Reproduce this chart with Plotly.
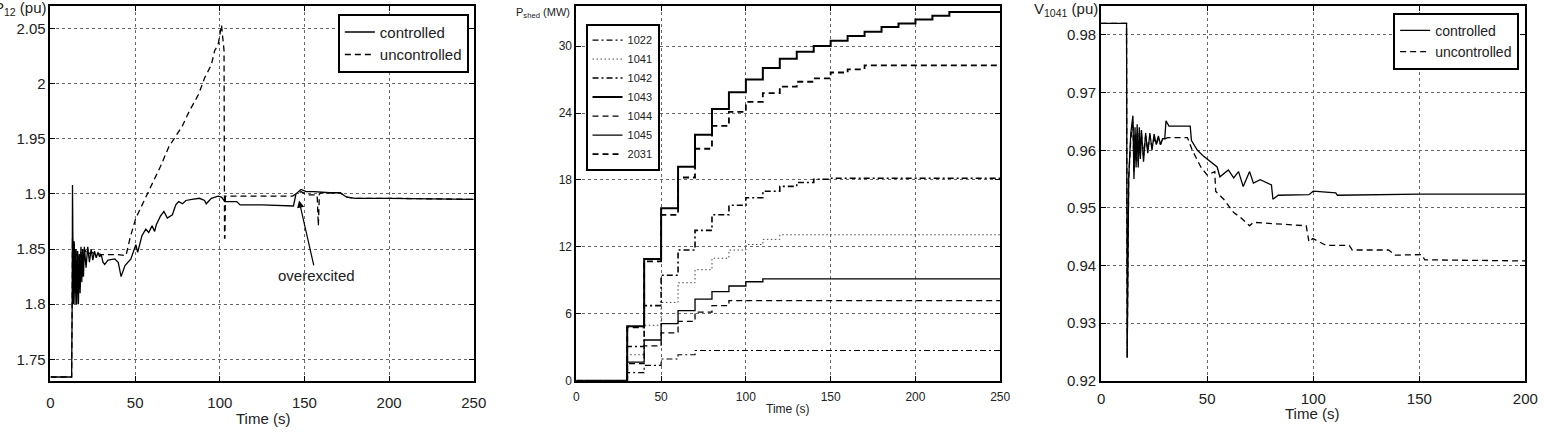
import plotly.graph_objects as go

# ---------------- Panel 1: P12 (pu) ----------------
p12_t_ctrl = [0, 12.5, 12.8, 13.0, 13.5, 14.0, 14.5, 15.0, 15.5, 16.0, 16.5, 17.0, 17.5, 18.0, 18.5, 19.0, 19.5,
              20, 21, 22, 23, 24, 25, 26, 27, 28, 29, 30, 31, 32, 34, 38, 40, 41.7, 44, 47.5, 50.4, 51.5,
              54, 56.3, 58, 60, 61.5, 62.5, 65, 67, 69, 72, 74, 75.7, 78, 80, 83.5, 88, 91, 92, 95, 99,
              101, 103, 110, 112, 125, 142, 143.5, 145, 148, 151, 155.6, 165, 171, 175, 180, 200, 250]
p12_ctrl = [1.734, 1.734, 1.80, 1.908, 1.80, 1.857, 1.80, 1.85, 1.80, 1.848, 1.80, 1.845, 1.81, 1.852, 1.82, 1.85, 1.825,
            1.852, 1.833, 1.852, 1.838, 1.85, 1.84, 1.848, 1.842, 1.847, 1.843, 1.845, 1.838, 1.836, 1.84, 1.841, 1.838, 1.825, 1.835, 1.841, 1.854, 1.847,
            1.862, 1.868, 1.865, 1.871, 1.866, 1.872, 1.880, 1.884, 1.878, 1.881, 1.890, 1.893, 1.891, 1.894, 1.895, 1.896, 1.894, 1.891, 1.896, 1.898,
            1.897, 1.893, 1.893, 1.890, 1.890, 1.889, 1.889, 1.900, 1.904, 1.902, 1.902, 1.901, 1.901, 1.897, 1.896, 1.896, 1.895]

p12_t_unc = [0, 12.5, 12.8, 13.0, 13.5, 14.0, 14.5, 15.0, 15.5, 16.0, 16.5, 17.0, 17.5, 18.0, 19.0, 20, 22, 24, 26, 28, 30,
             35, 40, 44.6, 47, 50.4, 55, 60, 65, 70, 74, 77.7, 82, 87.4, 91, 95, 97, 99, 101, 102.5, 102.8, 103.0, 103.3,
             110, 125, 143, 145, 148, 152, 157.5, 158.2, 158.8, 160, 171, 175, 180, 200, 250]
p12_unc = [1.734, 1.734, 1.80, 1.86, 1.81, 1.855, 1.81, 1.85, 1.81, 1.848, 1.81, 1.846, 1.815, 1.849, 1.825, 1.85, 1.845, 1.847, 1.846, 1.846, 1.845,
           1.845, 1.845, 1.844, 1.86, 1.878, 1.893, 1.909, 1.925, 1.943, 1.952, 1.961, 1.975, 1.990, 2.005, 2.017, 2.030, 2.035, 2.053, 2.03, 1.86, 1.86, 1.898,
           1.898, 1.898, 1.898, 1.900, 1.902, 1.899, 1.899, 1.871, 1.90, 1.901, 1.901, 1.897, 1.896, 1.896, 1.895]

# ---------------- Panel 2: P_shed (MW), step changes every 10 s ----------------
shed_t = [0, 30, 40, 50, 60, 70, 80, 90, 100, 110, 120, 130, 140, 150, 160, 170, 180, 190, 200, 210, 220, 250]
shed_1022 = [0, 0.73, 1.38, 1.96, 2.34, 2.72, 2.72, 2.72, 2.72, 2.72, 2.72, 2.72, 2.72, 2.72, 2.72, 2.72, 2.72, 2.72, 2.72, 2.72, 2.72, 2.72]
shed_1041 = [0, 2.34, 4.98, 7.03, 8.79, 9.96, 10.99, 11.72, 12.22, 12.68, 13.09, 13.09, 13.09, 13.09, 13.09, 13.09, 13.09, 13.09, 13.09, 13.09, 13.09, 13.09]
shed_1042 = [0, 3.08, 6.74, 9.46, 11.72, 13.48, 14.88, 15.73, 16.41, 16.99, 17.43, 17.78, 18.07, 18.16, 18.16, 18.16, 18.16, 18.16, 18.16, 18.16, 18.16, 18.16]
shed_1043 = [0, 4.89, 10.93, 15.47, 19.19, 22.06, 24.37, 25.87, 27.01, 28.04, 28.86, 29.5, 30.0, 30.47, 30.9, 31.29, 31.7, 32.02, 32.37, 32.72, 33.05, 33.05]
shed_1044 = [0, 1.55, 3.13, 4.30, 5.33, 6.15, 6.74, 7.18, 7.18, 7.18, 7.18, 7.18, 7.18, 7.18, 7.18, 7.18, 7.18, 7.18, 7.18, 7.18, 7.18, 7.18]
shed_1045 = [0, 1.67, 3.66, 5.13, 6.30, 7.32, 8.00, 8.50, 8.88, 9.14, 9.14, 9.14, 9.14, 9.14, 9.14, 9.14, 9.14, 9.14, 9.14, 9.14, 9.14, 9.14]
shed_2031 = [0, 4.80, 10.70, 14.88, 18.22, 20.80, 22.85, 24.10, 24.99, 25.78, 26.37, 26.80, 27.10, 27.63, 27.92, 28.27, 28.27, 28.27, 28.27, 28.27, 28.27, 28.27]

# ---------------- Panel 3: V1041 (pu) ----------------
v_t_ctrl = [0, 12.0, 12.3, 13.0, 14.0, 15.0, 15.5, 16.0, 16.5, 17.0, 17.5, 18.0, 18.5, 19.0, 20, 21, 22, 23, 24, 25, 26, 27, 28, 29, 30,
            30.6, 32, 42, 42.6, 45.4, 48.5, 51.6, 54.7, 56, 60, 62.5, 64.8, 67, 70, 71.8, 75, 80.3, 81, 83.5, 98, 100, 110.6, 111.4, 150, 200]
v_ctrl = [0.982, 0.982, 0.924, 0.955, 0.963, 0.966, 0.955, 0.964, 0.957, 0.9645, 0.957, 0.964, 0.9585, 0.9635, 0.958, 0.963, 0.9595, 0.963, 0.960, 0.9628, 0.961, 0.9625, 0.961, 0.962, 0.962,
          0.9651, 0.9642, 0.9642, 0.9617, 0.9600, 0.9589, 0.9580, 0.9571, 0.9554, 0.9566, 0.9552, 0.9563, 0.9537, 0.9563, 0.9543, 0.9549, 0.9540, 0.9515, 0.9522, 0.9523, 0.9529, 0.9526, 0.9522, 0.9524, 0.9524]

v_t_unc = [0, 12.0, 12.3, 13.0, 14.0, 15.0, 15.5, 16.0, 16.5, 17.0, 17.5, 18.0, 18.5, 19.0, 20, 21, 22, 23, 24, 25, 26, 27, 28, 29, 30,
           31.4, 40.7, 43, 47, 50, 53.6, 54, 57.8, 62.5, 65.6, 70, 71.8, 96.7, 98, 99.8, 106, 117, 118.4, 135.5, 138.6, 151, 152.6, 200]
v_unc = [0.982, 0.982, 0.924, 0.955, 0.962, 0.965, 0.956, 0.963, 0.958, 0.963, 0.958, 0.963, 0.959, 0.963, 0.959, 0.9625, 0.960, 0.9625, 0.9605, 0.962, 0.961, 0.962, 0.961, 0.962, 0.962,
         0.9622, 0.9622, 0.9600, 0.9571, 0.9557, 0.9563, 0.9529, 0.9515, 0.9492, 0.9484, 0.9469, 0.9475, 0.9469, 0.9441, 0.9447, 0.9435, 0.9435, 0.9427, 0.9427, 0.9418, 0.9419, 0.9410, 0.9408]

# ---------------- Figure ----------------
W, H = 1545, 434
FONT = "Liberation Sans, Arial, Helvetica, sans-serif"
DASH = "6px,4px"
DASHDOT = "6px,3px,2px,3px"
DOT = "1.5px,2.5px"


def px_x(p):
    return p / W


def px_y(p):
    return 1 - p / H


fig = go.Figure()

# Panel 1 traces
fig.add_trace(go.Scatter(x=p12_t_unc, y=p12_unc, mode="lines", name="uncontrolled",
                         line=dict(color="black", width=1.3, dash=DASH), xaxis="x", yaxis="y", legend="legend"))
fig.add_trace(go.Scatter(x=p12_t_ctrl, y=p12_ctrl, mode="lines", name="controlled",
                         line=dict(color="black", width=1.3), xaxis="x", yaxis="y", legend="legend"))

# Panel 2 traces
shed_series = [
    ("1022", shed_1022, dict(color="black", width=1.2, dash=DASHDOT)),
    ("1041", shed_1041, dict(color="#444444", width=1.0, dash=DOT)),
    ("1042", shed_1042, dict(color="black", width=1.6, dash=DASHDOT)),
    ("1043", shed_1043, dict(color="black", width=2.0)),
    ("1044", shed_1044, dict(color="black", width=1.3, dash=DASH)),
    ("1045", shed_1045, dict(color="black", width=1.3)),
    ("2031", shed_2031, dict(color="black", width=1.8, dash=DASH)),
]
for name, vals, ln in shed_series:
    fig.add_trace(go.Scatter(x=shed_t, y=vals, mode="lines", name=name, line=dict(shape="hv", **ln),
                             xaxis="x2", yaxis="y2", legend="legend2"))

# Panel 3 traces
fig.add_trace(go.Scatter(x=v_t_ctrl, y=v_ctrl, mode="lines", name="controlled",
                         line=dict(color="black", width=1.3), xaxis="x3", yaxis="y3", legend="legend3"))
fig.add_trace(go.Scatter(x=v_t_unc, y=v_unc, mode="lines", name="uncontrolled",
                         line=dict(color="black", width=1.3, dash=DASH), xaxis="x3", yaxis="y3", legend="legend3"))

axis_common = dict(showline=True, linecolor="black", linewidth=1.8, mirror="ticks",
                   ticks="inside", ticklen=5, tickcolor="black", tickwidth=1,
                   showgrid=True, gridcolor="#666666", gridwidth=1, griddash="dot",
                   zeroline=False, color="#222222")

ytop, ybot = 6, 388
ydom = [px_y(ybot), px_y(ytop)]

fig.update_layout(
    width=W, height=H,
    margin=dict(l=0, r=0, t=0, b=0),
    paper_bgcolor="white", plot_bgcolor="white",
    font=dict(family=FONT, color="#222222"),
    xaxis=dict(domain=[px_x(47), px_x(475)], range=[0, 250], tickvals=[0, 50, 100, 150, 200, 250],
               anchor="y", tickfont=dict(size=15), ticklabelstandoff=7, **axis_common),
    yaxis=dict(domain=ydom, range=[1.7305, 2.0704], tickvals=[1.75, 1.8, 1.85, 1.9, 1.95, 2.0, 2.05],
               ticktext=["1.75", "1.8", "1.85", "1.9", "1.95", "2", "2.05"],
               anchor="x", tickfont=dict(size=15), **axis_common),
    xaxis2=dict(domain=[px_x(578.7), px_x(1007.3)], range=[0, 250], tickvals=[0, 50, 100, 150, 200, 250],
                anchor="y2", tickfont=dict(size=12), ticklabelstandoff=4, **axis_common),
    yaxis2=dict(domain=ydom, range=[0, 33.6], tickvals=[0, 6, 12, 18, 24, 30],
                anchor="x2", tickfont=dict(size=12), **axis_common),
    xaxis3=dict(domain=[px_x(1109.3), px_x(1538.3)], range=[0, 200], tickvals=[0, 50, 100, 150, 200],
                anchor="y3", tickfont=dict(size=15), ticklabelstandoff=3, **axis_common),
    yaxis3=dict(domain=ydom, range=[0.92, 0.98505], tickvals=[0.92, 0.93, 0.94, 0.95, 0.96, 0.97, 0.98],
                tickformat=".2f", anchor="x3", tickfont=dict(size=15), **axis_common),
    legend=dict(x=px_x(470), y=px_y(14), xanchor="right", yanchor="top", traceorder="reversed",
                bgcolor="white", bordercolor="black", borderwidth=2, font=dict(size=15), itemwidth=30,
                tracegroupgap=0),
    legend2=dict(x=px_x(588), y=px_y(24), xanchor="left", yanchor="top",
                 bgcolor="white", bordercolor="black", borderwidth=2, font=dict(size=11), itemwidth=30,
                 tracegroupgap=0),
    legend3=dict(x=px_x(1532), y=px_y(13), xanchor="right", yanchor="top",
                 bgcolor="white", bordercolor="black", borderwidth=2, font=dict(size=14), itemwidth=30,
                 tracegroupgap=0),
)

annotations = [
    # axis titles
    dict(text="Time (s)", x=px_x(262), y=px_y(426), xref="paper", yref="paper", showarrow=False,
         xanchor="center", yanchor="middle", font=dict(size=15)),
    dict(text="Time (s)", x=px_x(793), y=px_y(417), xref="paper", yref="paper", showarrow=False,
         xanchor="center", yanchor="middle", font=dict(size=12)),
    dict(text="Time (s)", x=px_x(1323), y=px_y(421), xref="paper", yref="paper", showarrow=False,
         xanchor="center", yanchor="middle", font=dict(size=15)),
    dict(text="P<sub>12</sub> (pu)", x=px_x(45), y=px_y(9), xref="paper", yref="paper", showarrow=False,
         xanchor="right", yanchor="middle", font=dict(size=15)),
    dict(text="P<sub>shed</sub> (MW)", x=px_x(574), y=px_y(13), xref="paper", yref="paper", showarrow=False,
         xanchor="right", yanchor="middle", font=dict(size=11)),
    dict(text="V<sub>1041</sub> (pu)", x=px_x(1108), y=px_y(10), xref="paper", yref="paper", showarrow=False,
         xanchor="right", yanchor="middle", font=dict(size=15)),
    # arrow annotation
    dict(text="overexcited", x=146.8, y=1.894, xref="x", yref="y", showarrow=True,
         ax=17, ay=75, arrowhead=2, arrowsize=1.2, arrowwidth=1.2, arrowcolor="black",
         font=dict(size=15)),
]
fig.update_layout(annotations=annotations)

fig.write_html("out.html")
